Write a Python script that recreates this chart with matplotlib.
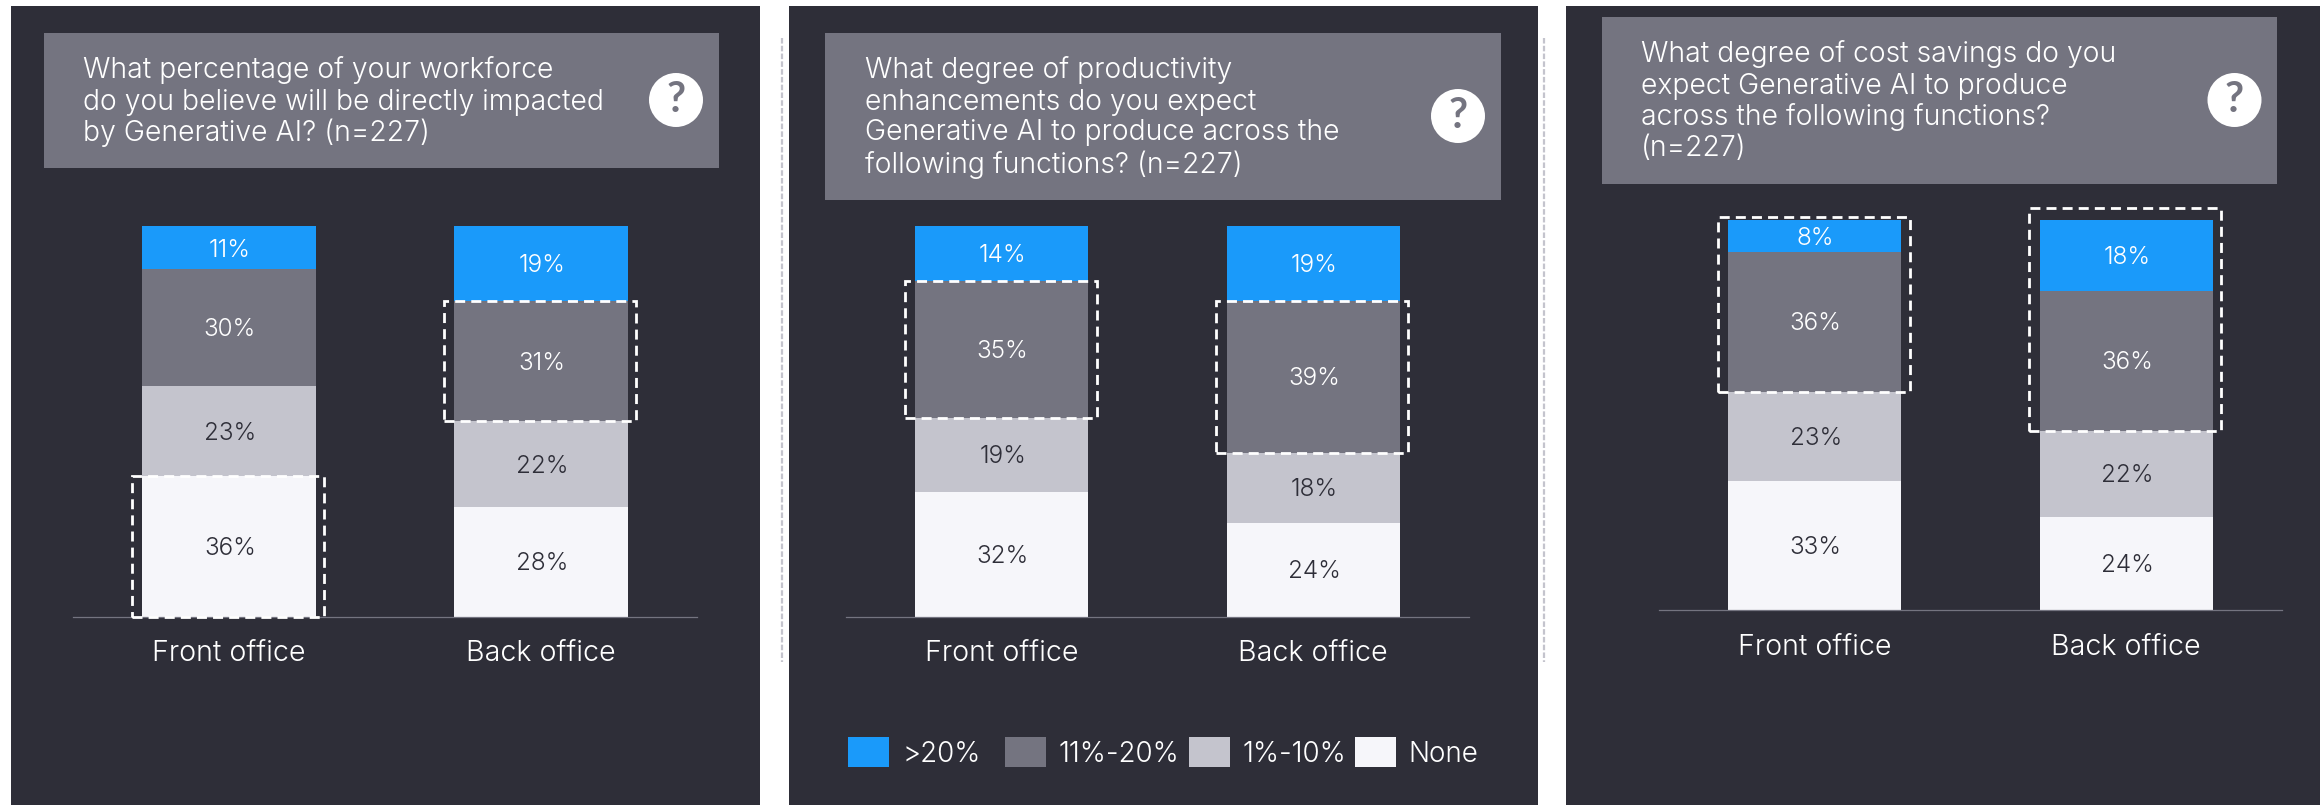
import matplotlib
matplotlib.use("Agg")
import matplotlib.pyplot as plt
from matplotlib.patches import Rectangle, Circle

W, H = 2320, 805
plt.rcParams['font.family'] = ['Inter', 'DejaVu Sans']

# Survey shares, stacked from the bottom: None, 1%-10%, 11%-20%, >20%
categories = ["Front office", "Back office"]
legend_labels = ["None", "1%-10%", "11%-20%", ">20%"]

workforce_front = [36, 23, 30, 11]
workforce_back = [28, 22, 31, 19]
productivity_front = [32, 19, 35, 14]
productivity_back = [24, 18, 39, 19]
savings_front = [33, 23, 36, 8]
savings_back = [24, 22, 36, 18]

question_workforce = ["What percentage of your workforce",
                      "do you believe will be directly impacted",
                      "by Generative AI? (n=227)"]
question_productivity = ["What degree of productivity",
                         "enhancements do you expect",
                         "Generative AI to produce across the",
                         "following functions? (n=227)"]
question_savings = ["What degree of cost savings do you",
                    "expect Generative AI to produce",
                    "across the following functions?",
                    "(n=227)"]

BG = "#2e2e38"
GREY = "#747480"
SEG_COLORS = ["#f6f6fa", "#c4c4cd", "#747480", "#1a9afa"]
TEXT_COLORS = ["#2e2e38", "#2e2e38", "#ffffff", "#ffffff"]
LABEL_PT = 17.5
TITLE_PT = 20.4
TICK_PT = 20.6
LEGEND_PT = 20
TEXT_STYLE = dict(family="Inter", fontweight=300)

fig = plt.figure(figsize=(W / 100, H / 100), dpi=100, facecolor="white")


def px_rect(x0, y0, x1, y1, **kw):
    """Rectangle on the figure, given in pixels from the top-left corner."""
    fig.add_artist(Rectangle((x0 / W, 1 - y1 / H), (x1 - x0) / W, (y1 - y0) / H,
                             transform=fig.transFigure, linewidth=0, **kw))


panels = [
    dict(bg=(11, 760), head=(44, 33, 719, 168), text_x=83, text_y=[70, 102, 133],
         icon=(676, 100), axis=(73, 697), base=616.5, top=226.5,
         lines=question_workforce, front=workforce_front, back=workforce_back,
         boxes=[(0, 0, 0, 0), (1, 2, 2, 0)]),
    dict(bg=(789, 1538), head=(825, 33, 1501, 200), text_x=865, text_y=[70, 102, 133, 165],
         icon=(1458, 116), axis=(846, 1469), base=616.5, top=226.5,
         lines=question_productivity, front=productivity_front, back=productivity_back,
         boxes=[(0, 2, 2, 0), (1, 2, 2, 0)]),
    dict(bg=(1566, 2320), head=(1602, 17, 2277, 184), text_x=1641, text_y=[54, 86, 117, 149],
         icon=(2234.5, 100), axis=(1659, 2282), base=610, top=220.5,
         lines=question_savings, front=savings_front, back=savings_back,
         boxes=[(0, 2, 3, 3.5), (1, 2, 3, 12.5)]),
]

for p in panels:
    px_rect(p["bg"][0], 6, p["bg"][1], H, facecolor=BG, zorder=0)
    x0, y0, x1, y1 = p["head"]
    px_rect(x0, y0, x1, y1, facecolor=GREY, zorder=1)
    for ty, line in zip(p["text_y"], p["lines"]):
        fig.text(p["text_x"] / W, 1 - ty / H, line, color="white", fontsize=TITLE_PT,
                 va="center", ha="left", zorder=3, **TEXT_STYLE)

    # Question badge
    cx, cy = p["icon"]
    badge = Circle((cx, H - cy), 27, transform=None, facecolor="white", linewidth=0, zorder=3)
    fig.add_artist(badge)
    fig.text(cx / W, 1 - cy / H, "?", color=GREY, fontsize=30, fontweight="bold",
             family="Lato", va="center", ha="center", zorder=4)

    ax = fig.add_axes([p["axis"][0] / W, 1 - p["base"] / H,
                       (p["axis"][1] - p["axis"][0]) / W, (p["base"] - p["top"]) / H],
                      facecolor="none", zorder=2)
    ax.set_xlim(-0.5, 1.5)
    ax.set_ylim(0, 100)
    series = [p["front"], p["back"]]
    for i, values in enumerate(series):
        bottom = 0
        for j, v in enumerate(values):
            ax.bar(i, v, width=0.555, bottom=bottom, color=SEG_COLORS[j], linewidth=0, zorder=2)
            ax.annotate(f"{v}%", (i + 0.003, bottom + v / 2), xytext=(0, -1.5),
                        textcoords="offset points", color=TEXT_COLORS[j], fontsize=LABEL_PT,
                        ha="center", va="center", zorder=5, **TEXT_STYLE)
            bottom += v

    # Dashed outline round the segments called out in each bar
    for bar_i, s0, s1, extra_top in p["boxes"]:
        values = series[bar_i]
        y_low = sum(values[:s0])
        y_high = sum(values[:s1 + 1])
        px_per_unit = (p["base"] - p["top"]) / 100
        ax.add_patch(Rectangle((bar_i - 0.311, y_low), 0.616,
                               y_high - y_low + extra_top / px_per_unit,
                               fill=False, edgecolor="white", linewidth=2.0,
                               linestyle=(0, (3.6, 2.2)), clip_on=False, zorder=4))

    for side in ("top", "left", "right"):
        ax.spines[side].set_visible(False)
    ax.spines["bottom"].set_color(GREY)
    ax.spines["bottom"].set_linewidth(0.9)
    ax.set_yticks([])
    ax.set_xticks([0, 1], categories, fontsize=TICK_PT, color="white", **TEXT_STYLE)
    ax.tick_params(axis="x", length=0, pad=17)

# Legend under the middle panel
legend_slots = [(1355, 1408), (1189, 1243), (1005, 1059), (848, 902)]
for (sx, tx), color, label in zip(legend_slots, SEG_COLORS, legend_labels):
    px_rect(sx, 737, sx + 41, 767, facecolor=color, zorder=1)
    fig.text(tx / W, 1 - 754 / H, label, color="white", fontsize=LEGEND_PT,
             va="center", ha="left", zorder=3, **TEXT_STYLE)

# Dashed separators between panels
for sep_x in (782, 1544):
    fig.add_artist(plt.Line2D([sep_x / W, sep_x / W], [1 - 38 / H, 1 - 662 / H],
                              transform=fig.transFigure, color="#c4c4cd", linewidth=1.6,
                              linestyle=(0, (2.5, 1)), zorder=1))

fig.savefig("out.png", dpi=100, facecolor="white")
